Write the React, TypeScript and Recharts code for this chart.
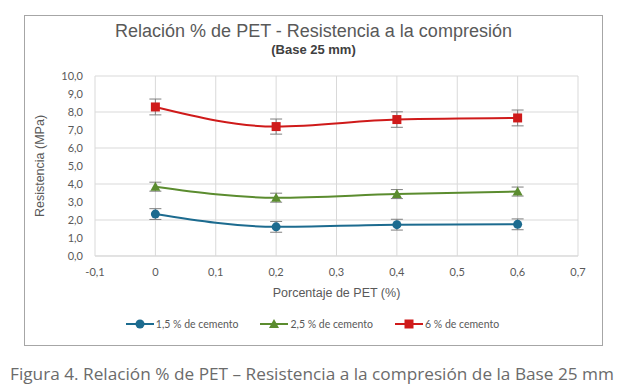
import React from "react";
import {
  LineChart,
  Line,
  XAxis,
  YAxis,
  CartesianGrid,
  ErrorBar,
  Legend,
} from "recharts";

// % de PET
const petPercent = [0, 0.2, 0.4, 0.6];

// Resistencia (MPa) por dosificación de cemento
const cemento15 = [2.33, 1.62, 1.74, 1.76];
const cemento25 = [3.85, 3.24, 3.44, 3.58];
const cemento6 = [8.28, 7.19, 7.58, 7.67];

// desviaciones (barras de error)
const error15 = [0.3, 0.3, 0.3, 0.3];
const error25 = [0.25, 0.25, 0.25, 0.25];
const error6 = [0.44, 0.42, 0.43, 0.44];

const xTicks = [-0.1, 0, 0.1, 0.2, 0.3, 0.4, 0.5, 0.6, 0.7];
const yTicks = [0, 1, 2, 3, 4, 5, 6, 7, 8, 9, 10];

const seriesNames = ["1,5 % de cemento", "2,5 % de cemento", "6 % de cemento"];

const BLUE = "#1c6b8f";
const GREEN = "#5b8c2f";
const RED = "#cf1a1a";
const ERR = "#7f7f7f";

const data = petPercent.map((x, i) => ({
  x,
  c15: cemento15[i],
  e15: error15[i],
  c25: cemento25[i],
  e25: error25[i],
  c6: cemento6[i],
  e6: error6[i],
}));

const TICK_FONT = "Lato, 'Open Sans', sans-serif";
const ARIAL = "'Liberation Sans', Arial, sans-serif";

const fmtY = (v: number) => v.toFixed(1).replace(".", ",");
const fmtX = (v: number) => (Math.abs(v) < 1e-9 ? "0" : v.toFixed(1).replace(".", ","));

function Marker({ cx, cy, shape, color }: any) {
  if (cx == null || cy == null) return null;
  if (shape === "circle") return <circle cx={cx} cy={cy} r={4.5} fill={color} />;
  if (shape === "triangle")
    return (
      <polygon
        points={`${cx},${cy - 5} ${cx - 5},${cy + 4} ${cx + 5},${cy + 4}`}
        fill={color}
      />
    );
  return <rect x={cx - 4.5} y={cy - 4.5} width={9} height={9} fill={color} />;
}

const dotFor = (shape: string, color: string) => (props: any) => (
  <Marker key={`${shape}-${props.index}`} cx={props.cx} cy={props.cy} shape={shape} color={color} />
);

function LegendContent() {
  const items = [
    { name: seriesNames[0], color: BLUE, shape: "circle" },
    { name: seriesNames[1], color: GREEN, shape: "triangle" },
    { name: seriesNames[2], color: RED, shape: "square" },
  ];
  return (
    <div
      style={{
        display: "flex",
        justifyContent: "center",
        gap: 22,
        fontFamily: TICK_FONT,
        fontSize: 10.5,
        color: "#595959",
      }}
    >
      {items.map((it) => (
        <div key={it.name} style={{ display: "flex", alignItems: "center" }}>
          <svg width={28} height={12} style={{ marginRight: 2 }}>
            <line x1={0} y1={6} x2={28} y2={6} stroke={it.color} strokeWidth={2} />
            <Marker cx={14} cy={6} shape={it.shape} color={it.color} />
          </svg>
          <span>{it.name}</span>
        </div>
      ))}
    </div>
  );
}

export default function App() {
  return (
    <div
      style={{
        position: "fixed",
        left: 0,
        top: 0,
        width: 625,
        height: 390,
        background: "#fff",
        overflow: "hidden",
      }}
    >
      <div
        style={{
          position: "absolute",
          left: 24,
          top: 15,
          width: 577,
          height: 329,
          border: "1px solid #a6a6a6",
        }}
      />
      <div
        style={{
          position: "absolute",
          left: 24,
          width: 579,
          top: 20,
          textAlign: "center",
          fontFamily: ARIAL,
          fontSize: 18,
          color: "#595959",
          lineHeight: "22px",
        }}
      >
        Relación % de PET - Resistencia a la compresión
      </div>
      <div
        style={{
          position: "absolute",
          left: 24,
          width: 579,
          top: 42,
          textAlign: "center",
          fontFamily: ARIAL,
          fontSize: 13,
          fontWeight: "bold",
          color: "#404040",
          lineHeight: "16px",
        }}
      >
        (Base 25 mm)
      </div>

      <div style={{ position: "absolute", left: 0, top: 0 }}>
        <LineChart
          width={625}
          height={390}
          data={data}
          margin={{ top: 76, right: 47, left: 45, bottom: 73 }}
        >
          <CartesianGrid stroke="#d9d9d9" strokeWidth={1} />
          <XAxis
            dataKey="x"
            type="number"
            domain={[-0.1, 0.7]}
            ticks={xTicks}
            tickFormatter={fmtX}
            axisLine={{ stroke: "#d9d9d9" }}
            tickLine={false}
            tick={{ fontFamily: TICK_FONT, fontSize: 11, fill: "#595959" }}
            tickMargin={6}
            height={45}
            label={{
              value: "Porcentaje de PET (%)",
              position: "insideBottom",
              offset: 4,
              style: { fontFamily: ARIAL, fontSize: 12.5, fill: "#595959" },
            }}
          />
          <YAxis
            type="number"
            domain={[0, 10]}
            ticks={yTicks}
            tickFormatter={fmtY}
            axisLine={false}
            tickLine={false}
            tick={{ fontFamily: TICK_FONT, fontSize: 11, fill: "#595959" }}
            tickMargin={6}
            width={50}
            label={{
              content: ({ viewBox }: any) => {
                const x = viewBox.x - 5;
                const y = viewBox.y + viewBox.height / 2;
                return (
                  <text
                    x={x}
                    y={y}
                    transform={`rotate(-90 ${x} ${y})`}
                    textAnchor="middle"
                    dominantBaseline="central"
                    fontFamily={ARIAL}
                    fontSize={12.5}
                    fill="#595959"
                  >
                    Resistencia (MPa)
                  </text>
                );
              },
            }}
          />
          <Legend
            verticalAlign="bottom"
            content={<LegendContent />}
            wrapperStyle={{ position: "absolute", top: 318, left: 0, width: 625, height: 16 }}
          />
          <Line
            dataKey="c15"
            name={seriesNames[0]}
            type="monotone"
            stroke={BLUE}
            strokeWidth={2}
            dot={dotFor("circle", BLUE)}
            activeDot={false}
            isAnimationActive={false}
          >
            <ErrorBar dataKey="e15" direction="y" width={6} stroke={ERR} strokeWidth={1} />
          </Line>
          <Line
            dataKey="c25"
            name={seriesNames[1]}
            type="monotone"
            stroke={GREEN}
            strokeWidth={2}
            dot={dotFor("triangle", GREEN)}
            activeDot={false}
            isAnimationActive={false}
          >
            <ErrorBar dataKey="e25" direction="y" width={6} stroke={ERR} strokeWidth={1} />
          </Line>
          <Line
            dataKey="c6"
            name={seriesNames[2]}
            type="monotone"
            stroke={RED}
            strokeWidth={2}
            dot={dotFor("square", RED)}
            activeDot={false}
            isAnimationActive={false}
          >
            <ErrorBar dataKey="e6" direction="y" width={6} stroke={ERR} strokeWidth={1} />
          </Line>
        </LineChart>
      </div>

      <svg
        width={625}
        height={30}
        style={{ position: "absolute", left: 0, top: 358 }}
      >
        <text
          x={10}
          y={22}
          textLength={604}
          lengthAdjust="spacingAndGlyphs"
          fontFamily="'Open Sans', sans-serif"
          fontSize={17}
          fill="#6b6b6b"
        >
          Figura 4. Relación % de PET – Resistencia a la compresión de la Base 25 mm
        </text>
      </svg>
    </div>
  );
}
